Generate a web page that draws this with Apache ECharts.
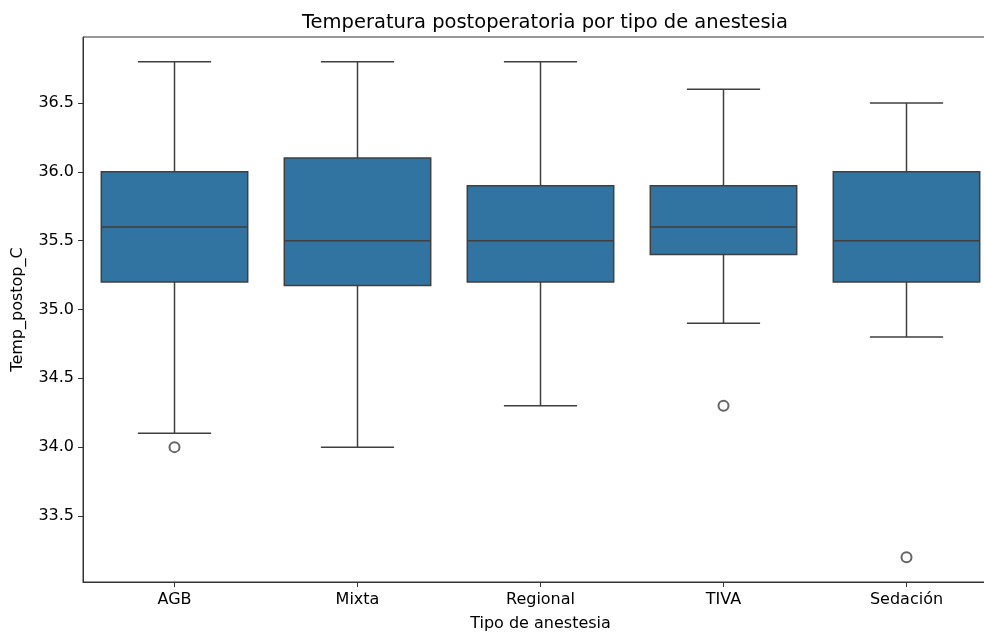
<!DOCTYPE html>
<html>
<head>
<meta charset="utf-8">
<script src="https://cdn.jsdelivr.net/npm/echarts@6/dist/echarts.min.js"></script>
<style>
  html, body { margin: 0; padding: 0; background: #fff; }
  #chart { width: 984px; height: 632px; }
</style>
</head>
<body>
<div id="chart"></div>
<script>
// categorias y estadisticos
var categories = ['AGB', 'Mixta', 'Regional', 'TIVA', 'Sedación'];
var whiskerLow = [34.1, 34.0, 34.3, 34.9, 34.8];
var q1 = [35.2, 35.175, 35.2, 35.4, 35.2];
var median = [35.6, 35.5, 35.5, 35.6, 35.5];
var q3 = [36.0, 36.1, 35.9, 35.9, 36.0];
var whiskerHigh = [36.8, 36.8, 36.8, 36.6, 36.5];
// atipicos: [indice de categoria, valor]
var outliers = [[0, 34.0], [3, 34.3], [4, 33.2]];
var yTicks = [33.5, 34.0, 34.5, 35.0, 35.5, 36.0, 36.5];

var boxColor = '#3274a1';
var edgeColor = '#3f3f3f';
var font = 'DejaVu Sans';

var boxData = categories.map(function (c, i) {
    return [i, whiskerLow[i], q1[i], median[i], q3[i], whiskerHigh[i]];
});

function renderBox(params, api) {
    var x = api.value(0);
    var pLow = api.coord([x, api.value(1)]);
    var pQ1 = api.coord([x, api.value(2)]);
    var pMed = api.coord([x, api.value(3)]);
    var pQ3 = api.coord([x, api.value(4)]);
    var pHigh = api.coord([x, api.value(5)]);
    var band = api.size([1, 0])[0];
    var half = band * 0.8 / 2;
    var cap = half / 2;
    var cx = pMed[0];
    var line = { stroke: edgeColor, lineWidth: 1.5 };
    return {
        type: 'group',
        children: [
            { type: 'line', shape: { x1: cx, y1: pHigh[1], x2: cx, y2: pQ3[1] }, style: line },
            { type: 'line', shape: { x1: cx, y1: pQ1[1], x2: cx, y2: pLow[1] }, style: line },
            { type: 'line', shape: { x1: cx - cap, y1: pHigh[1], x2: cx + cap, y2: pHigh[1] }, style: line },
            { type: 'line', shape: { x1: cx - cap, y1: pLow[1], x2: cx + cap, y2: pLow[1] }, style: line },
            {
                type: 'rect',
                shape: { x: cx - half, y: pQ3[1], width: half * 2, height: pQ1[1] - pQ3[1] },
                style: { fill: boxColor, stroke: edgeColor, lineWidth: 1.5 }
            },
            { type: 'line', shape: { x1: cx - half, y1: pMed[1], x2: cx + half, y2: pMed[1] }, style: line }
        ]
    };
}

var myChart = echarts.init(document.getElementById('chart'));

var option = {
    animation: false,
    backgroundColor: '#fff',
    title: {
        text: 'Temperatura postoperatoria por tipo de anestesia',
        left: 540,
        textAlign: 'center',
        top: 8,
        textStyle: { fontFamily: font, fontSize: 19.5, fontWeight: 'normal', color: '#000' }
    },
    grid: {
        left: 83,
        right: -14,
        top: 37,
        bottom: 50,
        outerBoundsMode: 'none',
        containLabel: false,
        show: true,
        borderColor: '#333',
        borderWidth: 1
    },
    xAxis: {
        type: 'category',
        data: categories,
        boundaryGap: true,
        name: 'Tipo de anestesia',
        nameLocation: 'middle',
        nameGap: 34,
        nameTextStyle: { fontFamily: font, fontSize: 16, color: '#000' },
        axisLine: { show: true, lineStyle: { color: '#333', width: 1 } },
        axisTick: { show: true, alignWithLabel: true, length: 5, lineStyle: { color: '#333' } },
        axisLabel: { fontFamily: font, fontSize: 16, color: '#000', margin: 10 },
        splitLine: { show: false }
    },
    yAxis: {
        type: 'value',
        min: 33.02,
        max: 36.98,
        name: 'Temp_postop_C',
        nameLocation: 'middle',
        nameGap: 57,
        nameTextStyle: { fontFamily: font, fontSize: 16, color: '#000' },
        axisLine: { show: true, lineStyle: { color: '#333', width: 1 } },
        axisTick: { show: true, length: 5, customValues: yTicks, lineStyle: { color: '#333' } },
        axisLabel: {
            fontFamily: font, fontSize: 16, color: '#000', margin: 9,
            customValues: yTicks,
            formatter: function (v) { return v.toFixed(1); }
        },
        splitLine: { show: false }
    },
    series: [
        {
            type: 'custom',
            renderItem: renderBox,
            encode: { x: 0, y: [1, 2, 3, 4, 5] },
            data: boxData,
            z: 2
        },
        {
            type: 'scatter',
            symbol: 'emptyCircle',
            symbolSize: 10,
            itemStyle: { color: edgeColor, borderColor: edgeColor, borderWidth: 1.3 },
            data: outliers,
            z: 3
        }
    ]
};

myChart.setOption(option);
</script>
</body>
</html>
